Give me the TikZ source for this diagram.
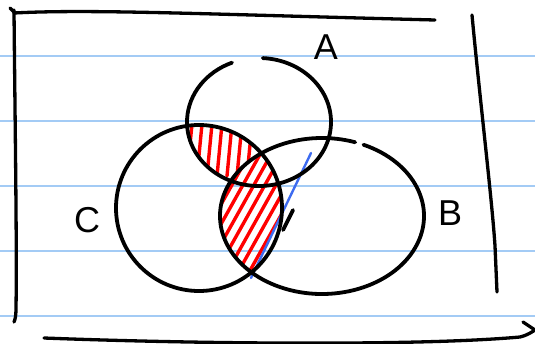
\documentclass[tikz,border=0pt]{standalone}
\usepackage{fontspec}
\setmainfont{Liberation Sans}
\definecolor{ruleblue}{HTML}{A3CBF5}
\definecolor{penblue}{HTML}{3D6BF0}
\begin{document}
\begin{tikzpicture}[x=1pt,y=-1pt, line cap=round, line join=round,
  ink/.style={draw=black, line width=3.8pt},
  frame/.style={draw=black, line width=3.3pt},
  rule/.style={draw=ruleblue, line width=2.2pt},
  hatch/.style={draw=red, line width=3.4pt},
  lbl/.style={font=\fontsize{36}{36}\selectfont, inner sep=0pt, text=black}]
\useasboundingbox (0,0) rectangle (535,343);
% ruled paper
\foreach \yy in {56,121,186,251,316} \draw[rule] (-5,\yy) -- (540,\yy);
% frame
\draw[frame] (14,13) .. controls (90,9) and (200,14) .. (435,20);
\draw[frame] (10,8) -- (15,13);
\draw[frame] (14,10) .. controls (15,120) and (17,250) .. (16,308) .. controls (16,316) and (15,320) .. (14,322);
\draw[frame] (472,15) .. controls (480,100) and (492,200) .. (495,246) -- (497,292);
\draw[frame] (44,338) .. controls (200,344) and (420,346) .. (520,337) .. controls (528,335) and (532,332) .. (538,328);
\draw[frame] (523,322) -- (535,330);
% hatch A∩C minus B
\begin{scope}[even odd rule]
  \clip (199,208) ellipse [x radius=83, y radius=83];
  \clip (259,122) ellipse [x radius=72, y radius=64];
  \clip (0,0) rectangle (535,343) (322,216) ellipse [x radius=102, y radius=78];
  \foreach \xx in {192,202,...,252} \draw[hatch] (\xx,124) -- (\xx-5,176);
\end{scope}
% hatch C∩B lens
\begin{scope}
  \clip (199,208) ellipse [x radius=83, y radius=83];
  \clip (322,216) ellipse [x radius=102, y radius=78];
  \foreach \ss in {150,161,...,300} \draw[hatch] (\ss,292) -- (\ss+84,142);
\end{scope}
% blue pen line
\draw[draw=penblue, line width=2.4pt] (311,153) -- (251,278);
% circles
\draw[ink] (259,122) ++(273:72 and 64) arc[start angle=273, end angle=608, x radius=72, y radius=64];
\draw[ink] (322,216) ++(-66:102 and 78) arc[start angle=-66, end angle=289, x radius=102, y radius=78];
\draw[ink] (199,208) ellipse [x radius=83, y radius=83];
\draw[ink] (283,230) -- (293,210);
% labels
\node[lbl] (lA) at (326,47) {A};
\node[lbl] (lB) at (450,213) {B};
\node[lbl] (lC) at (87,220) {C};
\end{tikzpicture}
\end{document}
